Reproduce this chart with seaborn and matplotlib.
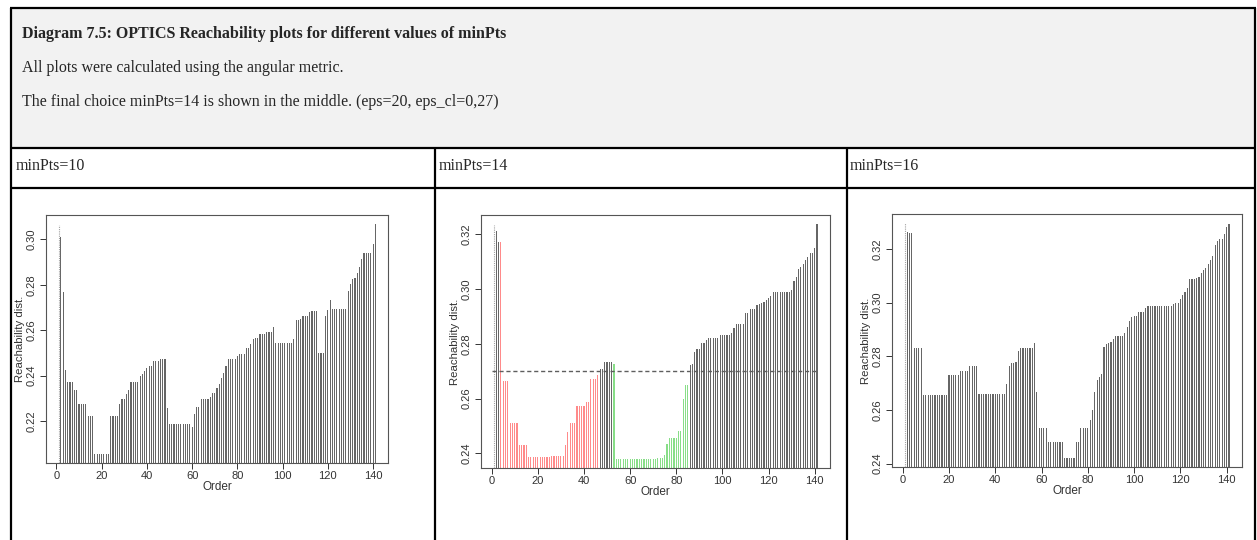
import numpy as np
import pandas as pd
import matplotlib
matplotlib.use("Agg")
import matplotlib.pyplot as plt
import seaborn as sns
from matplotlib.lines import Line2D
from matplotlib.patches import Rectangle

# ---------------- data ----------------
title = "Diagram 7.5: OPTICS Reachability plots for different values of minPts"
line2 = "All plots were calculated using the angular metric."
line3 = "The final choice minPts=14 is shown in the middle. (eps=20, eps_cl=0,27)"
col_labels = ["minPts=10", "minPts=14", "minPts=16"]

reach_10 = [
    0.3063, 0.3012, 0.2769, 0.2425, 0.2373, 0.2373, 0.2371, 0.2335, 0.2335, 0.2274,
    0.2274, 0.2274, 0.2274, 0.2222, 0.2222, 0.2222, 0.2055, 0.2055, 0.2055, 0.2055,
    0.2055, 0.2055, 0.2055, 0.2222, 0.2222, 0.2222, 0.2222, 0.2275, 0.2298, 0.2298,
    0.2320, 0.2335, 0.2372, 0.2372, 0.2372, 0.2372, 0.2400, 0.2405, 0.2420, 0.2432,
    0.2440, 0.2442, 0.2465, 0.2465, 0.2465, 0.2475, 0.2475, 0.2475, 0.2258, 0.2185,
    0.2185, 0.2185, 0.2185, 0.2185, 0.2185, 0.2185, 0.2185, 0.2185, 0.2185, 0.2172,
    0.2232, 0.2260, 0.2260, 0.2298, 0.2298, 0.2298, 0.2298, 0.2305, 0.2325, 0.2325,
    0.2347, 0.2362, 0.2391, 0.2413, 0.2440, 0.2474, 0.2474, 0.2474, 0.2474, 0.2486,
    0.2496, 0.2496, 0.2496, 0.2523, 0.2523, 0.2537, 0.2559, 0.2566, 0.2566, 0.2581,
    0.2585, 0.2585, 0.2590, 0.2590, 0.2590, 0.2614, 0.2544, 0.2544, 0.2544, 0.2544,
    0.2544, 0.2544, 0.2544, 0.2544, 0.2559, 0.2644, 0.2644, 0.2650, 0.2661, 0.2661,
    0.2661, 0.2679, 0.2685, 0.2685, 0.2685, 0.2498, 0.2498, 0.2498, 0.2664, 0.2688,
    0.2734, 0.2695, 0.2695, 0.2695, 0.2695, 0.2695, 0.2695, 0.2695, 0.2771, 0.2804,
    0.2826, 0.2829, 0.2851, 0.2880, 0.2912, 0.2939, 0.2939, 0.2939, 0.2939, 0.2980,
    0.3067,
]

reach_14 = [
    0.3233, 0.3212, 0.3170, 0.3170, 0.2663, 0.2663, 0.2663, 0.2512, 0.2512, 0.2512,
    0.2512, 0.2432, 0.2432, 0.2432, 0.2432, 0.2388, 0.2388, 0.2388, 0.2388, 0.2388,
    0.2388, 0.2388, 0.2388, 0.2388, 0.2388, 0.2390, 0.2390, 0.2390, 0.2390, 0.2390,
    0.2390, 0.2432, 0.2478, 0.2512, 0.2512, 0.2512, 0.2573, 0.2573, 0.2573, 0.2573,
    0.2588, 0.2588, 0.2673, 0.2673, 0.2673, 0.2686, 0.2709, 0.2709, 0.2733, 0.2733,
    0.2733, 0.2733, 0.2727, 0.2381, 0.2381, 0.2381, 0.2381, 0.2381, 0.2381, 0.2381,
    0.2381, 0.2381, 0.2381, 0.2381, 0.2381, 0.2381, 0.2381, 0.2381, 0.2381, 0.2381,
    0.2381, 0.2385, 0.2385, 0.2385, 0.2395, 0.2435, 0.2458, 0.2458, 0.2458, 0.2458,
    0.2482, 0.2482, 0.2600, 0.2649, 0.2649, 0.2724, 0.2727, 0.2772, 0.2781, 0.2781,
    0.2802, 0.2802, 0.2815, 0.2823, 0.2823, 0.2823, 0.2823, 0.2823, 0.2833, 0.2833,
    0.2833, 0.2833, 0.2833, 0.2841, 0.2857, 0.2873, 0.2873, 0.2873, 0.2873, 0.2912,
    0.2912, 0.2927, 0.2927, 0.2927, 0.2942, 0.2944, 0.2950, 0.2953, 0.2960, 0.2966,
    0.2975, 0.2988, 0.2988, 0.2988, 0.2988, 0.2988, 0.2988, 0.2988, 0.2988, 0.2996,
    0.3030, 0.3045, 0.3072, 0.3081, 0.3090, 0.3105, 0.3118, 0.3130, 0.3130, 0.3148,
    0.3236,
]

reach_16 = [
    0.3295, 0.3264, 0.3260, 0.3258, 0.2832, 0.2832, 0.2832, 0.2832, 0.2656, 0.2656,
    0.2656, 0.2656, 0.2656, 0.2656, 0.2656, 0.2656, 0.2656, 0.2656, 0.2656, 0.2731,
    0.2731, 0.2731, 0.2731, 0.2731, 0.2745, 0.2745, 0.2745, 0.2745, 0.2762, 0.2762,
    0.2762, 0.2762, 0.2659, 0.2659, 0.2659, 0.2659, 0.2659, 0.2659, 0.2659, 0.2659,
    0.2659, 0.2659, 0.2659, 0.2659, 0.2696, 0.2762, 0.2774, 0.2774, 0.2779, 0.2820,
    0.2830, 0.2830, 0.2830, 0.2830, 0.2830, 0.2832, 0.2851, 0.2667, 0.2531, 0.2531,
    0.2531, 0.2531, 0.2481, 0.2481, 0.2481, 0.2481, 0.2481, 0.2481, 0.2481, 0.2422,
    0.2422, 0.2422, 0.2422, 0.2422, 0.2481, 0.2481, 0.2531, 0.2531, 0.2531, 0.2531,
    0.2562, 0.2601, 0.2667, 0.2712, 0.2721, 0.2735, 0.2833, 0.2844, 0.2848, 0.2854,
    0.2863, 0.2876, 0.2876, 0.2876, 0.2876, 0.2888, 0.2910, 0.2931, 0.2945, 0.2950,
    0.2950, 0.2963, 0.2963, 0.2963, 0.2978, 0.2988, 0.2988, 0.2988, 0.2988, 0.2988,
    0.2988, 0.2988, 0.2988, 0.2988, 0.2988, 0.2988, 0.2994, 0.2997, 0.2999, 0.3014,
    0.3028, 0.3040, 0.3053, 0.3087, 0.3087, 0.3087, 0.3092, 0.3096, 0.3111, 0.3121,
    0.3127, 0.3145, 0.3160, 0.3173, 0.3213, 0.3230, 0.3238, 0.3238, 0.3257, 0.3282,
    0.3294,
]

# cluster ranges (order positions) in the minPts=14 extraction
cluster1_range = (4, 46)
cluster2_range = (53, 85)
eps_cl = 0.27

yticks_10 = [0.22, 0.24, 0.26, 0.28, 0.30]
yticks_14 = [0.24, 0.26, 0.28, 0.30, 0.32]
yticks_16 = [0.24, 0.26, 0.28, 0.30, 0.32]
xticks = [0, 20, 40, 60, 80, 100, 120, 140]

# ---------------- style ----------------
sns.set_style("ticks")
plt.rcParams["font.family"] = ["Liberation Sans", "DejaVu Sans"]

W, H = 1257, 540
fig = plt.figure(figsize=(W / 100, H / 100), dpi=100)
fig.patch.set_facecolor("white")


def fx(x):
    return x / W


def fy(y):
    return 1 - y / H


# ---------------- table frame ----------------
fig.add_artist(Rectangle((fx(11), fy(148)), fx(1255) - fx(11), fy(8) - fy(148),
                         transform=fig.transFigure, facecolor="#f2f2f2",
                         edgecolor="none", zorder=0))
frame_lw = 1.6
for (x0, y0, x1, y1) in [(10, 8, 1256, 8), (10, 148, 1256, 148), (10, 188, 1256, 188),
                         (11, 8, 11, 540), (1255, 8, 1255, 540),
                         (435, 148, 435, 540), (847, 148, 847, 540)]:
    fig.add_artist(Line2D([fx(x0), fx(x1)], [fy(y0), fy(y1)], transform=fig.transFigure,
                          color="black", lw=frame_lw, solid_capstyle="butt", zorder=5))

serif = ["Liberation Serif", "DejaVu Serif"]
fig.text(fx(22), fy(34), title, family=serif, weight="bold", fontsize=11.5,
         va="center", ha="left")
fig.text(fx(22), fy(68), line2, family=serif, fontsize=11.5, va="center", ha="left")
fig.text(fx(22), fy(102), line3, family=serif, fontsize=11.5, va="center", ha="left")
for xpos, lab in zip([16, 439, 850], col_labels):
    fig.text(fx(xpos), fy(166), lab, family=serif, fontsize=11.5, va="center", ha="left")


# ---------------- panels ----------------
def draw_panel(box, reach, clusters, yticks, eps=None):
    x0, y0, x1, y1 = box
    ax = fig.add_axes([fx(x0), fy(y1), fx(x1) - fx(x0), fy(y0) - fy(y1)])
    n = len(reach)
    df = pd.DataFrame({"order": np.arange(1, n + 1), "reach": reach, "cl": clusters})
    pal = {"noise": "#666666", "c1": "#ff8a8a", "c2": "#88de88"}
    body = df.iloc[1:]
    present = {k: pal[k] for k in body["cl"].unique()}
    sns.barplot(data=body, x="order", y="reach", hue="cl", palette=present,
                native_scale=True, width=0.5, dodge=False, legend=False,
                errorbar=None, saturation=1, linewidth=0, ax=ax)
    r = max(reach) - min(reach)
    ylo, yhi = min(reach) - 0.04 * r, max(reach) + 0.04 * r
    # first point (undefined reachability) drawn dotted
    ax.vlines(df["order"].iloc[0], ylo, df["reach"].iloc[0], colors="#a0a0a0",
              linestyles=(0, (1, 1)), lw=0.8)
    if eps is not None:
        ax.hlines(eps, 0, n, colors="#5e5e5e", linestyles=(0, (3, 2)), lw=1.0, zorder=4)
    ax.set_ylim(ylo, yhi)
    ax.set_xlim(1 - 0.04 * (n - 1), n + 0.04 * (n - 1))
    ax.set_xticks(xticks)
    ax.set_xticklabels([str(t) for t in xticks])
    ax.set_yticks(yticks)
    ax.set_yticklabels([f"{t:.2f}" for t in yticks], rotation=90, va="center")
    ax.tick_params(axis="both", direction="out", length=4, width=0.7, colors="#333333",
                   labelsize=8)
    ax.tick_params(axis="x", pad=1.5)
    ax.tick_params(axis="y", pad=3)
    ax.set_xlabel("Order", fontsize=8.5, labelpad=0.5, color="#333333")
    ax.set_ylabel("Reachability dist.", fontsize=8.2, labelpad=1, color="#333333")
    for s in ax.spines.values():
        s.set_visible(True)
        s.set_color("#555555")
        s.set_linewidth(0.8)
    ax.set_facecolor("white")
    return ax


noise_10 = ["noise"] * len(reach_10)
noise_16 = ["noise"] * len(reach_16)
cl_14 = []
for k in range(1, len(reach_14) + 1):
    if cluster1_range[0] <= k <= cluster1_range[1]:
        cl_14.append("c1")
    elif cluster2_range[0] <= k <= cluster2_range[1]:
        cl_14.append("c2")
    else:
        cl_14.append("noise")

draw_panel((46, 215, 388, 463), reach_10, noise_10, yticks_10)
draw_panel((481, 215, 830, 468), reach_14, cl_14, yticks_14, eps=eps_cl)
draw_panel((892, 214, 1242, 467), reach_16, noise_16, yticks_16)

fig.savefig("out.png", dpi=100, facecolor="white")
